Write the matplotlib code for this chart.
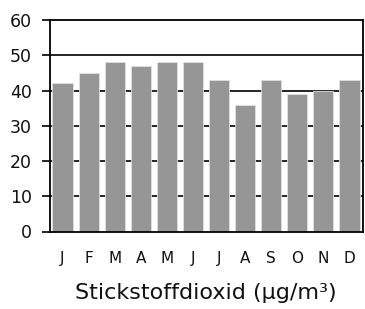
import matplotlib
matplotlib.use("Agg")
import matplotlib.pyplot as plt

months = ["J", "F", "M", "A", "M", "J", "J", "A", "S", "O", "N", "D"]
values = [42, 45, 48, 47, 48, 48, 43, 36, 43, 39, 40, 43]
yticks = [0, 10, 20, 30, 40, 50, 60]
title = "Stickstoffdioxid (µg/m³)"

plt.rcParams['font.family'] = ['DejaVu Sans']
fig = plt.figure(figsize=(3.65, 3.09), dpi=100)
L, R, T, B = 49.5, 362.5, 20, 231.5
ax = fig.add_axes([L/365, 1-B/309, (R-L)/365, (B-T)/309])
x = list(range(len(values)))
ax.bar(x, values, width=0.77, color="#969696", edgecolor="#e0e0e0", linewidth=0.6, zorder=3)
ax.set_xlim(-0.5, len(values)-0.5)
ax.set_ylim(0, 60)
ax.set_yticks(yticks)
ax.set_yticklabels([str(t) for t in yticks], fontsize=12.5, color='#111111')
ax.set_xticks(x)
ax.set_xticklabels(months, fontsize=11, color='#111111')
ax.tick_params(axis='x', length=0, pad=14)
ax.tick_params(axis='y', direction='out', length=5.5, width=1.2, pad=7, color='black')
for y in yticks[1:-1]:
    ax.axhline(y, color='black', linewidth=1.2, zorder=1)
for s in ax.spines.values():
    s.set_linewidth(1.3)
    s.set_color('black')
    s.set_zorder(4)
fig.text((L+R)/2/365, 1-299/309, title, fontsize=16, ha='center', va='baseline', color='#111111')
fig.savefig("out.png", dpi=100)
